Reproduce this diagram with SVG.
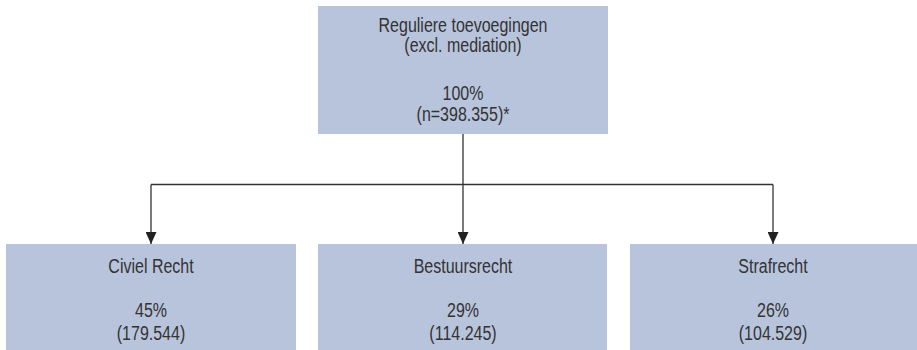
<svg xmlns="http://www.w3.org/2000/svg" width="917" height="350" viewBox="0 0 917 350">
<defs>
<style>
.box{fill:#b8c4dc;stroke:none}
.t{font-family:"Liberation Sans",Arial,sans-serif;font-size:19.5px;fill:#333333;text-anchor:middle}
.c{fill:none;stroke:#333333;stroke-width:1.3}
</style>
<marker id="ah" viewBox="0 0 12 11" refX="12" refY="5.5" markerWidth="12" markerHeight="11" markerUnits="userSpaceOnUse" orient="auto">
<path d="M0,0 L12,5.5 L0,11 Z" fill="#222222"/>
</marker>
</defs>
<rect x="0" y="0" width="917" height="350" fill="#ffffff"/>
<g id="connectors">
<line class="c" x1="151" y1="184.5" x2="773" y2="184.5"/>
<line class="c" x1="463" y1="134" x2="463" y2="244" marker-end="url(#ah)"/>
<line class="c" x1="151" y1="184.5" x2="151" y2="244" marker-end="url(#ah)"/>
<line class="c" x1="773" y1="184.5" x2="773" y2="244" marker-end="url(#ah)"/>
</g>
<g id="node-top">
<rect class="box" x="318" y="6" width="290" height="128"/>
<g transform="matrix(0.82 0 0 1 463 0)">
<text class="t" x="0" y="32">Reguliere toevoegingen</text>
<text class="t" x="0" y="52">(excl. mediation)</text>
<text class="t" x="0" y="100">100%</text>
<text class="t" x="0" y="121">(n=398.355)*</text>
</g>
</g>
<g id="node-civiel">
<rect class="box" x="6" y="244" width="290" height="106"/>
<g transform="matrix(0.82 0 0 1 151 0)">
<text class="t" x="0" y="273">Civiel Recht</text>
<text class="t" x="0" y="317">45%</text>
<text class="t" x="0" y="340">(179.544)</text>
</g>
</g>
<g id="node-bestuur">
<rect class="box" x="318" y="244" width="289" height="106"/>
<g transform="matrix(0.82 0 0 1 463 0)">
<text class="t" x="0" y="273">Bestuursrecht</text>
<text class="t" x="0" y="317">29%</text>
<text class="t" x="0" y="340">(114.245)</text>
</g>
</g>
<g id="node-straf">
<rect class="box" x="630" y="244" width="287" height="106"/>
<g transform="matrix(0.82 0 0 1 773 0)">
<text class="t" x="0" y="273">Strafrecht</text>
<text class="t" x="0" y="317">26%</text>
<text class="t" x="0" y="340">(104.529)</text>
</g>
</g>
</svg>
